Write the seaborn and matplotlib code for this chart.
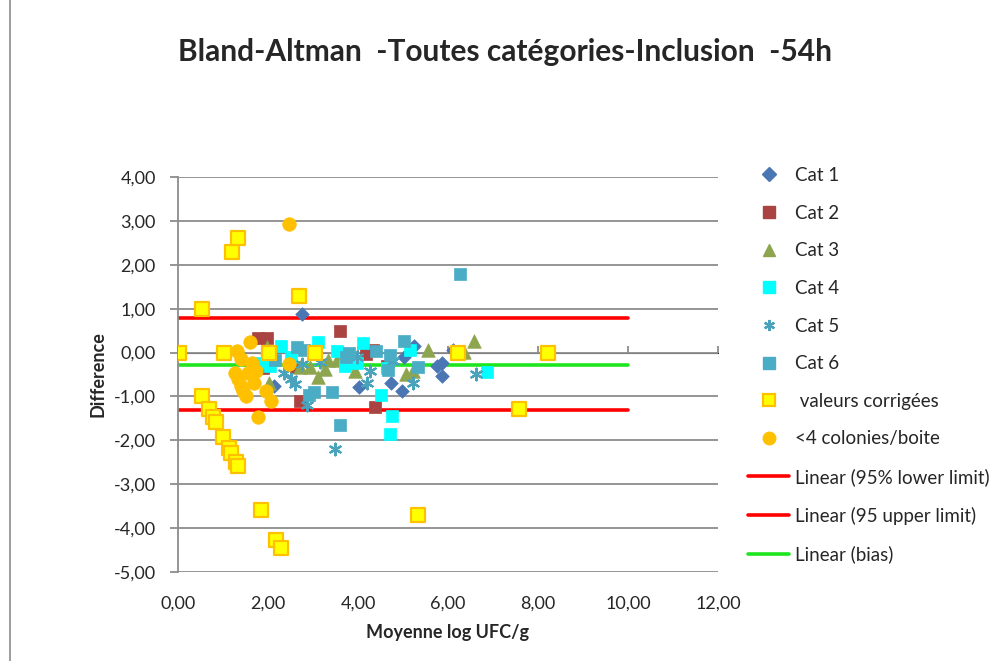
import matplotlib
matplotlib.use("Agg")
import matplotlib.pyplot as plt
import matplotlib.ticker as mticker
from matplotlib.lines import Line2D
from matplotlib.patches import Rectangle
import seaborn as sns

# ---- data -------------------------------------------------------------
cat1_x = [2.76, 2.14, 4.02, 4.73, 4.98, 5.03, 5.24, 5.76, 5.86, 5.86, 6.10, 2.00]
cat1_y = [0.87, -0.76, -0.78, -0.70, -0.87, -0.11, 0.16, -0.31, -0.24, -0.53, 0.06, -0.17]

cat2_x = [1.78, 1.97, 3.61, 2.70, 4.18, 4.34, 4.64, 4.38, 1.89, 2.62]
cat2_y = [0.33, 0.33, 0.48, -1.10, -0.03, 0.06, -0.30, -1.25, -0.35, -0.33]

cat3_x = [5.56, 6.58, 6.36, 5.23, 5.07, 3.93, 3.73, 3.33, 3.54, 3.27, 3.10, 2.93, 2.71, 2.02, 1.97]
cat3_y = [0.06, 0.27, 0.01, -0.43, -0.49, -0.43, -0.21, -0.17, -0.17, -0.37, -0.56, -0.34, -0.34, -0.70, 0.13]

cat4_x = [2.28, 3.10, 3.53, 4.10, 5.16, 3.72, 3.97, 4.64, 4.50, 4.75, 4.71, 2.04, 1.82, 2.50, 6.86]
cat4_y = [0.15, 0.23, 0.04, 0.21, 0.06, -0.30, -0.24, -0.36, -0.97, -1.44, -1.85, -0.30, -0.23, -0.09, -0.45]

cat5_x = [2.36, 2.50, 2.60, 2.86, 3.16, 3.98, 4.19, 5.23, 4.78, 2.75, 6.62, 3.49, 4.27]
cat5_y = [-0.47, -0.61, -0.72, -1.19, -0.21, -0.09, -0.69, -0.69, -0.19, -0.25, -0.49, -2.20, -0.43]

cat6_x = [6.27, 2.16, 2.65, 2.79, 2.90, 3.03, 3.42, 3.61, 3.79, 3.73, 4.41, 4.71, 4.66, 5.02, 5.34]
cat6_y = [1.78, -0.17, 0.13, 0.06, -0.97, -0.90, -0.90, -1.65, 0.00, -0.11, 0.04, -0.05, -0.40, 0.26, -0.34]

corr_x = [0.02, 0.53, 1.03, 1.19, 1.34, 2.69, 2.03, 3.04, 0.53, 0.68, 0.77, 0.84, 1.01,
          1.14, 1.18, 1.28, 1.33, 1.84, 2.18, 2.28, 5.33, 8.22, 7.58, 6.23]
corr_y = [0.00, 1.00, 0.00, 2.28, 2.60, 1.30, 0.00, 0.00, -1.00, -1.29, -1.46, -1.59, -1.93,
          -2.18, -2.28, -2.49, -2.58, -3.58, -4.27, -4.46, -3.70, 0.00, -1.29, 0.00]

low_x = [2.47, 1.60, 1.32, 1.40, 1.26, 1.33, 1.39, 1.45, 1.52, 1.55, 1.65, 1.73, 1.69,
         1.95, 2.07, 1.77, 2.47]
low_y = [2.93, 0.25, 0.04, -0.15, -0.46, -0.61, -0.76, -0.87, -0.99, -0.46, -0.24, -0.43,
         -0.70, -0.87, -1.10, -1.47, -0.27]

# limits of agreement and bias (horizontal trendlines over x = 0 .. 10)
trend_x = [0.0, 10.0]
lower_limit = -1.32
upper_limit = 0.78
bias = -0.29

y_ticks = [-5, -4, -3, -2, -1, 0, 1, 2, 3, 4]
x_ticks = [0, 2, 4, 6, 8, 10, 12]

title = "Bland-Altman  -Toutes catégories-Inclusion  -54h"

# ---- styling ----------------------------------------------------------
sns.set_style("white")
plt.rcParams["font.family"] = ["Lato", "DejaVu Sans"]

fig = plt.figure(figsize=(9.9, 6.61), dpi=100)
ax = fig.add_axes([178 / 990, 1 - 572 / 661, 540 / 990, 395 / 661])

GRID = "#8c8c8c"

def fr(v):
    return f"{v:.2f}".replace(".", ",")

# trendlines
sns.lineplot(x=trend_x, y=[lower_limit] * 2, color="#ff0000", lw=2.6, ax=ax, zorder=2)
sns.lineplot(x=trend_x, y=[upper_limit] * 2, color="#ff0000", lw=2.6, ax=ax, zorder=2)
sns.lineplot(x=trend_x, y=[bias] * 2, color="#1ee61e", lw=2.6, ax=ax, zorder=2)

series = [
    (cat1_x, cat1_y, dict(marker="D", s=48, color="#4a77b4", edgecolor="#4a77b4", linewidth=0.5)),
    (cat2_x, cat2_y, dict(marker="s", s=70, color="#a94442", edgecolor="#a94442", linewidth=0.5)),
    (cat3_x, cat3_y, dict(marker="^", s=95, color="#8ea54f", edgecolor="#8ea54f", linewidth=0.5)),
    (cat4_x, cat4_y, dict(marker="s", s=80, color="#00ffff", edgecolor="#00ffff", linewidth=0.5)),
    (cat5_x, cat5_y, dict(marker=(6, 2, 0), s=70, color="#4aa3bd", edgecolor="#4aa3bd", linewidth=1.6)),
    (cat6_x, cat6_y, dict(marker="s", s=80, color="#4bacc6", edgecolor="#4bacc6", linewidth=0.5)),
    (corr_x, corr_y, dict(marker="s", s=95, color="#ffff00", edgecolor="#ffc000", linewidth=1.6)),
    (low_x, low_y, dict(marker="o", s=95, color="#ffc000", edgecolor="#ffc000", linewidth=0.5)),
]
for xs, ys, kw in series:
    sns.scatterplot(x=xs, y=ys, ax=ax, zorder=3, legend=False, **kw)

ax.set_xlim(0, 12)
ax.set_ylim(-5, 4)
ax.set_yticks(y_ticks)
ax.set_xticks(x_ticks)
ax.yaxis.set_major_formatter(mticker.FuncFormatter(lambda v, p: fr(v)))
ax.xaxis.set_major_formatter(mticker.FuncFormatter(lambda v, p: fr(v)))
ax.grid(axis="y", color=GRID, lw=1.3, zorder=0)
ax.grid(axis="x", visible=False)
for s in ["top", "right", "bottom"]:
    ax.spines[s].set_visible(False)
ax.spines["left"].set_color(GRID)
ax.spines["left"].set_linewidth(1.3)
ax.tick_params(axis="y", direction="out", length=6, width=1.3, color=GRID,
               labelsize=13, pad=10, left=True)
ax.tick_params(axis="x", length=0, labelsize=13, pad=17)
ax.set_axisbelow(True)

# horizontal axis crossing at y = 0 with its tick marks
sec = ax.secondary_xaxis(5 / 9)
sec.set_xticks(x_ticks)
sec.set_xticklabels([])
sec.spines["bottom"].set_color(GRID)
sec.spines["bottom"].set_linewidth(1.3)
sec.tick_params(axis="x", direction="out", length=5, width=1.3, color=GRID)

ax.set_ylabel("Difference", fontsize=13, fontweight="bold", labelpad=5)
ax.set_xlabel("Moyenne log UFC/g", fontsize=13, fontweight="bold", labelpad=9)
fig.text(505 / 990, 1 - 52 / 661, title, ha="center", va="center",
         fontsize=21.5, fontweight="bold")

# legend
handles = [
    Line2D([], [], ls="none", marker="D", ms=7, color="#4a77b4"),
    Line2D([], [], ls="none", marker="s", ms=8, color="#a94442"),
    Line2D([], [], ls="none", marker="^", ms=9, color="#8ea54f"),
    Line2D([], [], ls="none", marker="s", ms=8, color="#00ffff"),
    Line2D([], [], ls="none", marker=(6, 2, 0), ms=8, mew=1.6, color="#4aa3bd"),
    Line2D([], [], ls="none", marker="s", ms=8, color="#4bacc6"),
    Line2D([], [], ls="none", marker="s", ms=9, mfc="#ffff00", mec="#ffc000", mew=1.6),
    Line2D([], [], ls="none", marker="o", ms=9, color="#ffc000"),
    Line2D([], [], color="#ff0000", lw=2.6),
    Line2D([], [], color="#ff0000", lw=2.6),
    Line2D([], [], color="#1ee61e", lw=2.6),
]
labels = ["Cat 1", "Cat 2", "Cat 3", "Cat 4", "Cat 5", "Cat 6", " valeurs corrigées",
          "<4 colonies/boite", "Linear (95% lower limit)", "Linear (95 upper limit)",
          "Linear (bias)"]
fig.legend(handles, labels, loc="upper left", bbox_to_anchor=(748 / 990, 1 - 167 / 661),
           frameon=False, fontsize=13.5, labelspacing=1.10, handlelength=2.2,
           handletextpad=0.3, borderpad=0, borderaxespad=0)

# chart area border
fig.patches.append(Rectangle((10 / 990, -0.01), 1.0, 1.05, transform=fig.transFigure,
                             fill=False, edgecolor="#8c8c8c", lw=1.2))

fig.savefig("out.png", dpi=100)
